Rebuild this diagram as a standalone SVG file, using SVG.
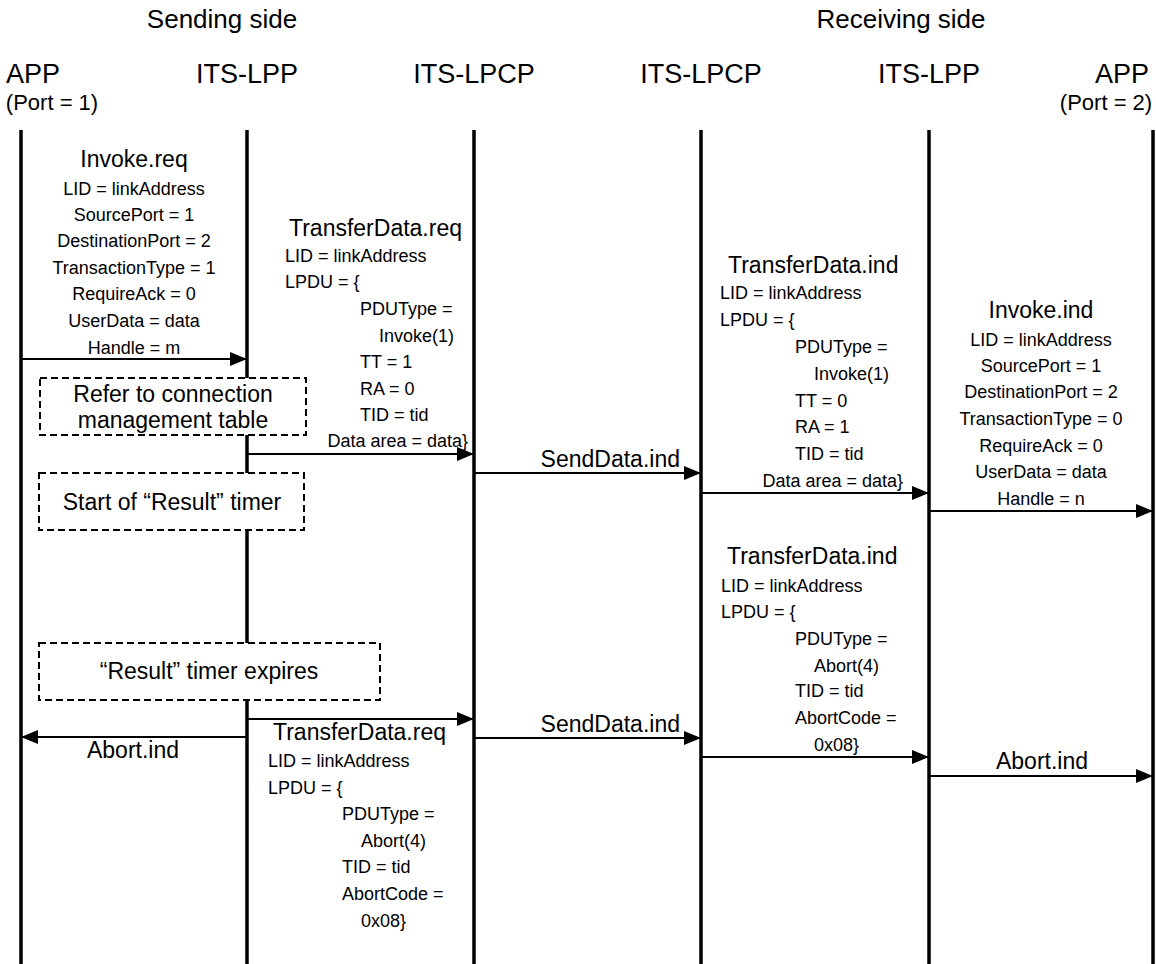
<svg xmlns="http://www.w3.org/2000/svg" width="1156" height="964" viewBox="0 0 1156 964">
<style>
text{font-family:"Liberation Sans",Arial,sans-serif;fill:#000}
.side{font-size:26px;text-anchor:middle}
.hd{font-size:27px;text-anchor:middle}
.port{font-size:22px;text-anchor:middle}
.big{font-size:23px}
.sm{font-size:18px}
.mid{text-anchor:middle}
.end{text-anchor:end}
.life{stroke:#000;stroke-width:3.5;fill:none}
.msg{stroke:#000;stroke-width:2;fill:none;marker-end:url(#ah)}
.box{fill:#fff;stroke:#000;stroke-width:2;stroke-dasharray:7,4}
</style>
<defs>
<marker id="ah" markerWidth="17" markerHeight="14" refX="16" refY="7" orient="auto" markerUnits="userSpaceOnUse">
<path d="M0,0 L17,7 L0,14 z" fill="#000"/>
</marker>
</defs>
<rect width="1156" height="964" fill="#fff"/>
<g id="titles">
<text class="side" x="222" y="28">Sending side</text>
<text class="side" x="901" y="28">Receiving side</text>
</g>
<g id="lifelines">
<g id="app1"><text class="hd" x="33" y="83">APP</text><text class="port" x="52" y="110">(Port = 1)</text><line class="life" x1="21" y1="130" x2="21" y2="964"/></g>
<g id="lpp1"><text class="hd" x="247" y="83">ITS-LPP</text><line class="life" x1="247" y1="130" x2="247" y2="964"/></g>
<g id="lpcp1"><text class="hd" x="474" y="83">ITS-LPCP</text><line class="life" x1="474" y1="130" x2="474" y2="964"/></g>
<g id="lpcp2"><text class="hd" x="701" y="83">ITS-LPCP</text><line class="life" x1="701" y1="130" x2="701" y2="964"/></g>
<g id="lpp2"><text class="hd" x="929" y="83">ITS-LPP</text><line class="life" x1="929" y1="130" x2="929" y2="964"/></g>
<g id="app2"><text class="hd" x="1122" y="83">APP</text><text class="port" x="1106" y="110">(Port = 2)</text><line class="life" x1="1153" y1="130" x2="1153" y2="964"/></g>
</g>
<g id="notes">
<g id="note-refer"><rect class="box" x="40" y="378" width="266" height="57"/><text class="big mid" x="173" y="402">Refer to connection</text><text class="big mid" x="173" y="428">management table</text></g>
<g id="note-start"><rect class="box" x="39" y="473" width="265" height="57"/><text class="big mid" x="172" y="510">Start of “Result” timer</text></g>
<g id="note-expire"><rect class="box" x="39" y="643" width="341" height="57"/><text class="big mid" x="209" y="679">“Result” timer expires</text></g>
</g>
<g id="connectors">
<line class="msg" x1="21" y1="359" x2="246" y2="359"/>
<line class="msg" x1="247" y1="454" x2="473" y2="454"/>
<line class="msg" x1="474" y1="473" x2="700" y2="473"/>
<line class="msg" x1="701" y1="493" x2="928" y2="493"/>
<line class="msg" x1="929" y1="511" x2="1152" y2="511"/>
<line class="msg" x1="247" y1="719" x2="473" y2="719"/>
<line class="msg" x1="247" y1="737" x2="22" y2="737"/>
<line class="msg" x1="474" y1="738" x2="700" y2="738"/>
<line class="msg" x1="701" y1="757" x2="928" y2="757"/>
<line class="msg" x1="929" y1="776" x2="1152" y2="776"/>
</g>
<g id="label-invoke-req">
<text class="big mid" x="134" y="167">Invoke.req</text>
<text class="sm mid" x="134" y="195">LID = linkAddress</text>
<text class="sm mid" x="134" y="221">SourcePort = 1</text>
<text class="sm mid" x="134" y="247">DestinationPort = 2</text>
<text class="sm mid" x="134" y="274">TransactionType = 1</text>
<text class="sm mid" x="134" y="300">RequireAck = 0</text>
<text class="sm mid" x="134" y="327">UserData = data</text>
<text class="sm mid" x="134" y="354">Handle = m</text>
</g>
<g id="label-transfer-req-1">
<text class="big" x="289" y="236">TransferData.req</text>
<text class="sm" x="285" y="262">LID = linkAddress</text>
<text class="sm" x="285" y="288">LPDU = {</text>
<text class="sm" x="360" y="315">PDUType =</text>
<text class="sm" x="379" y="342">Invoke(1)</text>
<text class="sm" x="360" y="368">TT = 1</text>
<text class="sm" x="360" y="395">RA = 0</text>
<text class="sm" x="360" y="421">TID = tid</text>
<text class="sm end" x="468" y="447">Data area = data}</text>
</g>
<g id="label-senddata-1"><text class="big end" x="680" y="467">SendData.ind</text></g>
<g id="label-transfer-ind-1">
<text class="big" x="728" y="273">TransferData.ind</text>
<text class="sm" x="720" y="299">LID = linkAddress</text>
<text class="sm" x="720" y="326">LPDU = {</text>
<text class="sm" x="795" y="353">PDUType =</text>
<text class="sm" x="814" y="380">Invoke(1)</text>
<text class="sm" x="795" y="407">TT = 0</text>
<text class="sm" x="795" y="433">RA = 1</text>
<text class="sm" x="795" y="460">TID = tid</text>
<text class="sm end" x="903" y="487">Data area = data}</text>
</g>
<g id="label-invoke-ind">
<text class="big mid" x="1041" y="318">Invoke.ind</text>
<text class="sm mid" x="1041" y="346">LID = linkAddress</text>
<text class="sm mid" x="1041" y="372">SourcePort = 1</text>
<text class="sm mid" x="1041" y="398">DestinationPort = 2</text>
<text class="sm mid" x="1041" y="425">TransactionType = 0</text>
<text class="sm mid" x="1041" y="452">RequireAck = 0</text>
<text class="sm mid" x="1041" y="478">UserData = data</text>
<text class="sm mid" x="1041" y="505">Handle = n</text>
</g>
<g id="label-transfer-req-2">
<text class="big" x="273" y="740">TransferData.req</text>
<text class="sm" x="268" y="767">LID = linkAddress</text>
<text class="sm" x="268" y="794">LPDU = {</text>
<text class="sm" x="342" y="820">PDUType =</text>
<text class="sm" x="361" y="847">Abort(4)</text>
<text class="sm" x="342" y="873">TID = tid</text>
<text class="sm" x="342" y="900">AbortCode =</text>
<text class="sm" x="361" y="927">0x08}</text>
</g>
<g id="label-abort-1"><text class="big mid" x="133" y="758">Abort.ind</text></g>
<g id="label-senddata-2"><text class="big end" x="680" y="732">SendData.ind</text></g>
<g id="label-transfer-ind-2">
<text class="big" x="727" y="564">TransferData.ind</text>
<text class="sm" x="721" y="592">LID = linkAddress</text>
<text class="sm" x="721" y="618">LPDU = {</text>
<text class="sm" x="795" y="645">PDUType =</text>
<text class="sm" x="814" y="672">Abort(4)</text>
<text class="sm" x="795" y="697">TID = tid</text>
<text class="sm" x="795" y="724">AbortCode =</text>
<text class="sm" x="814" y="751">0x08}</text>
</g>
<g id="label-abort-2"><text class="big mid" x="1042" y="769">Abort.ind</text></g>
</svg>
